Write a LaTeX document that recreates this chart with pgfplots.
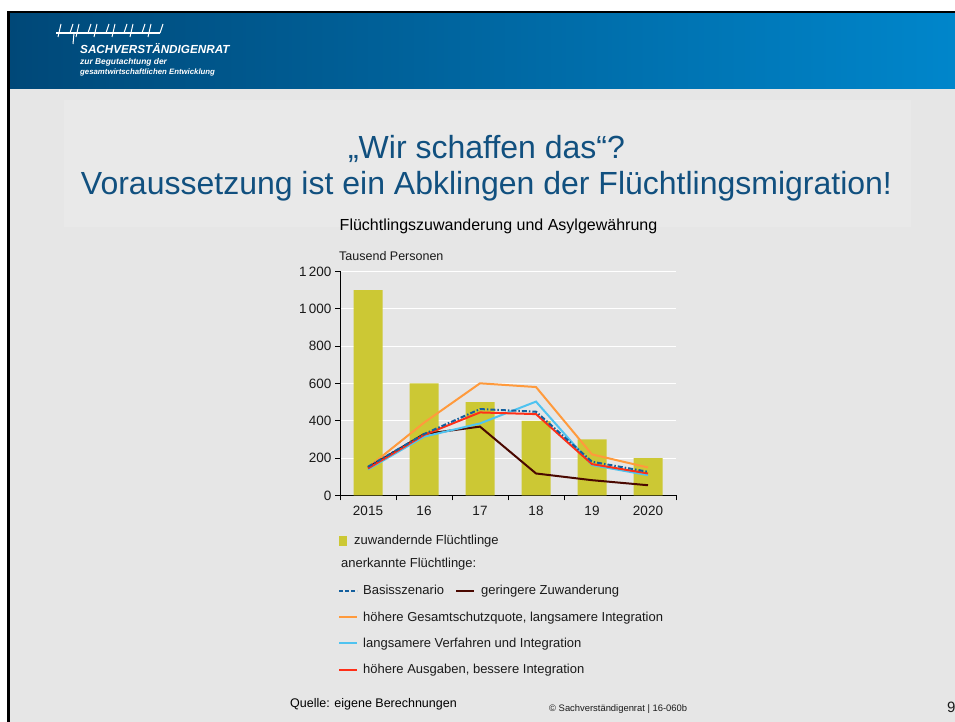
\documentclass[border=0pt]{standalone}
\usepackage{pgfplots}
\pgfplotsset{compat=1.18}
\usepackage{fontspec}
\setmainfont{Liberation Sans}
\definecolor{bgc}{HTML}{E6E6E6}
\definecolor{boxc}{HTML}{E9E9E9}
\definecolor{hdrL}{HTML}{004878}
\definecolor{hdrR}{HTML}{0086CB}
\definecolor{titc}{HTML}{11507F}
\definecolor{barc}{HTML}{CCC834}
\definecolor{orangec}{HTML}{FF9A3C}
\definecolor{lbluec}{HTML}{4FC3F0}
\definecolor{redc}{HTML}{FF2E17}
\definecolor{brownc}{HTML}{4A0800}
\definecolor{basisc}{HTML}{135F9E}
\definecolor{txtc}{HTML}{1A1A1A}
\begin{document}
\begin{tikzpicture}[x=1pt,y=1pt]
\useasboundingbox (0,0) rectangle (955,722);
\clip (0,0) rectangle (955,722);
\fill[white] (0,0) rectangle (955,722);
\fill[bgc] (9,0) rectangle (955,709);
% header
\shade[left color=hdrL, right color=hdrR] (9,633) rectangle (955,709);
\fill[black] (7,709) rectangle (955,711);
\fill[black] (7,0) rectangle (10,711);
% logo
\draw[white, line width=1.2pt] (56,689) -- (160,689);
\foreach \xx in {58,76,94,112,130,148} {
  \draw[white, line width=1pt] (\xx,685) -- (\xx+3,698);
  \draw[white, line width=1pt] (\xx+12,689) -- (\xx+15,698);
}
\draw[white, line width=1pt] (73,678) -- (74,689);
\node[anchor=base west, inner sep=0pt, text=white] at (80,668)
  {\fontsize{11.7}{14}\selectfont\bfseries\itshape SACHVERSTÄNDIGENRAT};
\node[anchor=base west, inner sep=0pt, text=white] at (80,657)
  {\fontsize{8.4}{10}\selectfont\bfseries\itshape zur Begutachtung der};
\node[anchor=base west, inner sep=0pt, text=white] at (80,647)
  {\fontsize{7.8}{9}\selectfont\bfseries\itshape gesamtwirtschaftlichen Entwicklung};
% title box
\fill[boxc] (64,495) rectangle (911,622);
\node[anchor=base, inner sep=0pt, text=titc] at (486.5,563)
  {\fontsize{32}{38}\selectfont „Wir schaffen das“?};
\node[anchor=base, inner sep=0pt, text=titc] at (486.5,527)
  {\fontsize{32}{38}\selectfont Voraussetzung ist ein Abklingen der Flüchtlingsmigration!};
\node[anchor=base, inner sep=0pt, text=black] at (498.5,491)
  {\fontsize{16}{19}\selectfont Flüchtlingszuwanderung und Asylgewährung};
\node[anchor=base west, inner sep=0pt, text=txtc] at (339,461)
  {\fontsize{12.5}{15}\selectfont Tausend Personen};
% chart
\begin{axis}[
  at={(340pt,226.5pt)}, anchor=south west,
  scale only axis, width=336pt, height=224pt,
  xmin=-0.5, xmax=5.5, ymin=0, ymax=1200,
  axis x line*=bottom, axis y line*=left,
  axis line style={black, line width=1pt, -},
  xtick={-0.5,0.5,1.5,2.5,3.5,4.5,5.5}, xticklabels={},
  extra x ticks={0,1,2,3,4,5},
  extra x tick labels={2015,16,17,18,19,2020},
  extra x tick style={major tick length=0pt},
  xticklabel style={yshift=-7pt},
  ytick={0,200,400,600,800,1000,1200},
  yticklabels={0,200,400,600,800,1\,000,1\,200},
  ymajorgrids, major grid style={white, line width=1.3pt},
  tick align=outside,
  major tick length=5pt,
  tick style={black, line width=1pt},
  ticklabel style={font=\fontsize{13.5}{16}\selectfont, text=txtc},
  /pgf/number format/assume math mode=true,
  clip=false,
]
\addplot[ybar, bar width=29pt, fill=barc, draw=none] coordinates {(0,1100)(1,600)(2,500)(3,400)(4,300)(5,200)};
\addplot[orangec, line width=2pt] coordinates {(0,150)(1,390)(2,601)(3,581)(4,220)(5,150)};
\addplot[brownc, line width=2pt] coordinates {(0,150)(1,329)(2,369)(3,118)(4,82)(5,55)};
\addplot[lbluec, line width=2pt] coordinates {(0,140)(1,315)(2,386)(3,503)(4,163)(5,109)};
\addplot[redc, line width=2pt] coordinates {(0,145)(1,324)(2,445)(3,436)(4,168)(5,118)};
\addplot[basisc, line width=2pt, dash pattern=on 5pt off 2pt on 1.5pt off 2pt] coordinates {(0,154)(1,329)(2,463)(3,449)(4,181)(5,127)};
\end{axis}
% legend
\fill[barc] (339,176) rectangle (347,186);
\node[anchor=base west, inner sep=0pt, text=txtc] at (354,177) {\fontsize{13}{15}\selectfont zuwandernde Flüchtlinge};
\node[anchor=base west, inner sep=0pt, text=txtc] at (341,154) {\fontsize{13}{15}\selectfont anerkannte Flüchtlinge:};
\draw[basisc, line width=2pt, dash pattern=on 4pt off 2pt] (339,131) -- (357,131);
\node[anchor=base west, inner sep=0pt, text=txtc] at (363,127) {\fontsize{13}{15}\selectfont Basisszenario};
\draw[brownc, line width=2pt] (456,131) -- (474,131);
\node[anchor=base west, inner sep=0pt, text=txtc] at (481,127) {\fontsize{13}{15}\selectfont geringere Zuwanderung};
\draw[orangec, line width=2pt] (339,105) -- (357,105);
\node[anchor=base west, inner sep=0pt, text=txtc] at (363,100) {\fontsize{13}{15}\selectfont höhere Gesamtschutzquote, langsamere Integration};
\draw[lbluec, line width=2pt] (339,79) -- (357,79);
\node[anchor=base west, inner sep=0pt, text=txtc] at (363,74) {\fontsize{13}{15}\selectfont langsamere Verfahren und Integration};
\draw[redc, line width=2pt] (339,52) -- (357,52);
\node[anchor=base west, inner sep=0pt, text=txtc] at (363,48) {\fontsize{13}{15}\selectfont höhere Ausgaben, bessere Integration};
% footer
\node[anchor=base west, inner sep=0pt, text=black] at (290,14)
  {\fontsize{12.5}{15}\selectfont Quelle: eigene Berechnungen};
\node[anchor=base west, inner sep=0pt, text=txtc] at (549,10)
  {\fontsize{9.4}{11}\selectfont © Sachverständigenrat | 16-060b};
\node[anchor=base west, inner sep=0pt, text=txtc] at (947,9) {\fontsize{15}{17}\selectfont 9};
\end{tikzpicture}
\end{document}
